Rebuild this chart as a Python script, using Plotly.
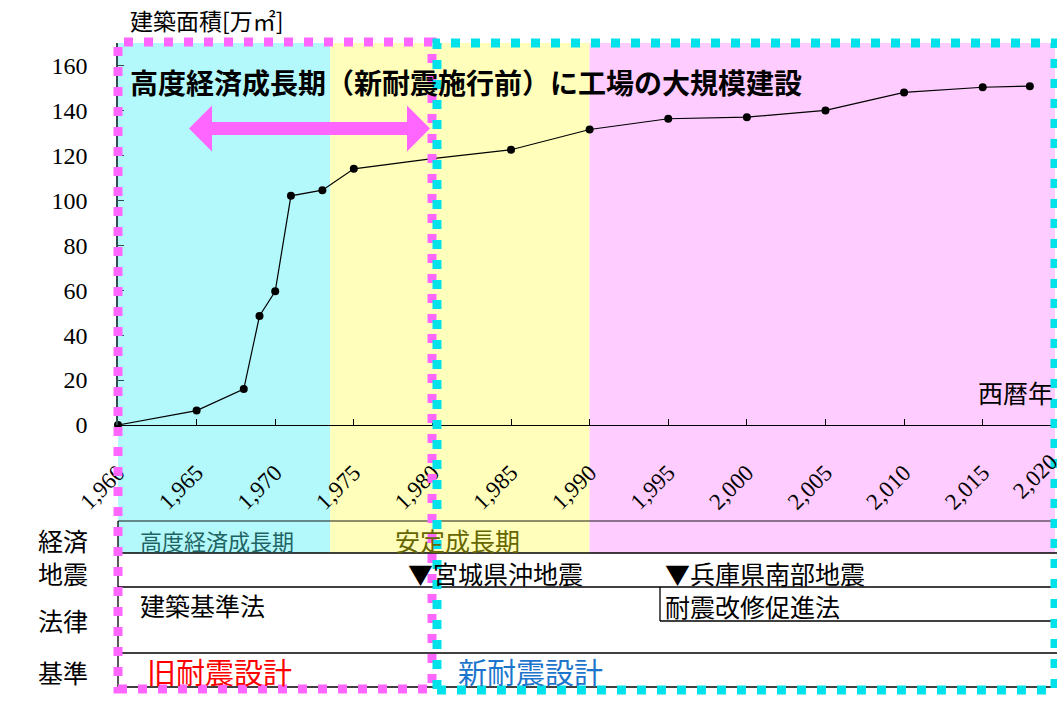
import plotly.graph_objects as go

# ---------------- data ----------------
years = [1960, 1965, 1968, 1969, 1970, 1971, 1973, 1975, 1980, 1985, 1990,
         1995, 2000, 2005, 2010, 2015, 2018]
area = [0, 6.4, 16, 48.5, 59.5, 102, 104.5, 114, 118.5, 122.5, 131.5,
        136.3, 137, 140, 148, 150.3, 150.8]

x_tick_years = list(range(1960, 2021, 5))
x_tick_text = [f"{y:,}" for y in x_tick_years]
y_tick_vals = [0, 20, 40, 60, 80, 100, 120, 140, 160]

era_starts = [1960, 1973.5, 1990]
era_ends = [1973.5, 1990, 2019.6]
era_colors = ["#B3F8FA", "#FFFFBB", "#FFCCFF"]

title_text = "高度経済成長期（新耐震施行前）に工場の大規模建設"
y_title_text = "建築面積[万㎡]"
x_title_text = "西暦年"
row_labels = ["経済", "地震", "法律", "基準"]

# ---------------- layout geometry ----------------
W, H = 1057, 711
L, R, T, B = 118, 2, 43, 286
PW, PH = W - L - R, H - T - B
BASE = H - B


def px(x):
    return (x - L) / PW


def py(y):
    return (BASE - y) / PH


JP = "Noto Sans CJK JP"
SERIF = "Liberation Serif"
MAGENTA = "#FF66FF"
CYAN = "#00E2EA"

fig = go.Figure()
fig.add_trace(go.Scatter(
    x=years, y=area, mode="lines+markers",
    line=dict(color="black", width=1.2),
    marker=dict(color="black", size=8),
    cliponaxis=False, showlegend=False, hoverinfo="skip"))

shapes = []
# era background bands
for x0, x1, c in zip(era_starts, era_ends, era_colors):
    shapes.append(dict(type="rect", xref="x", yref="paper", x0=x0, x1=x1,
                       y0=py(553), y1=1, fillcolor=c, line=dict(width=0),
                       layer="below"))

# table lines
def hline(y, x0=118, x1=1057, color="black", width=1.3):
    shapes.append(dict(type="line", xref="paper", yref="paper",
                       x0=px(x0), x1=px(x1), y0=py(y), y1=py(y),
                       line=dict(color=color, width=width), layer="above"))


def vline(x, y0, y1, color="black", width=1.3):
    shapes.append(dict(type="line", xref="paper", yref="paper",
                       x0=px(x), x1=px(x), y0=py(y0), y1=py(y1),
                       line=dict(color=color, width=width), layer="above"))


hline(521, color="rgba(0,0,0,0.6)")
hline(553)
hline(587)
hline(621, x0=660)
vline(660, 587, 621)
hline(653)
hline(687)
vline(118, 521, 687)

# pink double arrow
ay, shaft, head = 128.5, 6.5, 23
xl_tip, xl_base, xr_base, xr_tip = 189, 212, 407, 430
pts = [(xl_tip, ay), (xl_base, ay - head), (xl_base, ay - shaft),
       (xr_base, ay - shaft), (xr_base, ay - head), (xr_tip, ay),
       (xr_base, ay + head), (xr_base, ay + shaft), (xl_base, ay + shaft),
       (xl_base, ay + head)]
path = "M " + " L ".join(f"{px(a):.5f},{py(b):.5f}" for a, b in pts) + " Z"
shapes.append(dict(type="path", xref="paper", yref="paper", path=path,
                   fillcolor=MAGENTA, line=dict(width=0), layer="above"))

# dotted frames
shapes.append(dict(type="rect", xref="paper", yref="paper",
                   x0=px(118), x1=px(432), y0=py(689), y1=py(42),
                   line=dict(color=MAGENTA, width=9, dash="9px,11px"),
                   layer="above"))
shapes.append(dict(type="rect", xref="paper", yref="paper",
                   x0=px(437), x1=px(1055), y0=py(690), y1=py(43),
                   line=dict(color=CYAN, width=9, dash="9px,11px"),
                   layer="above"))

ann = []


def text(t, x, y, size, color="black", anchor="left", bold=False, family=JP, angle=0):
    ann.append(dict(text=f"<b>{t}</b>" if bold else t, xref="paper", yref="paper",
                    x=px(x), y=py(y), xanchor=anchor, yanchor="middle",
                    showarrow=False, textangle=angle,
                    font=dict(family=family, size=size, color=color)))


text(y_title_text, 128, 20, 23)
text(title_text, 128, 82, 28, bold=True)
text(x_title_text, 1055, 392, 25, anchor="right")
for lab, yy in zip(row_labels, [540, 573, 620, 672]):
    text(lab, 63, yy, 25, anchor="center")
text("高度経済成長期", 138, 540, 22, color="#1F6464")
text("安定成長期", 393, 540, 25, color="#666600")
text("▼宮城県沖地震", 406, 573, 25)
text("▼兵庫県南部地震", 663, 573, 25)
text("建築基準法", 138, 605, 25)
text("耐震改修促進法", 663, 606, 25)
text("旧耐震設計", 145, 671, 29, color="#FF0000")
text("新耐震設計", 456, 671, 29, color="#1C75CC")
# last tick label (axis ends just inside window)
text(x_tick_text[-1], 1035, 476, 23, anchor="center", family=SERIF, angle=-45)

fig.update_layout(
    width=W, height=H,
    margin=dict(l=L, r=R, t=T, b=B, pad=0),
    paper_bgcolor="white", plot_bgcolor="white",
    shapes=shapes, annotations=ann, showlegend=False,
    xaxis=dict(range=[1960, 2019.6], tickmode="array", tickvals=x_tick_years,
               ticktext=x_tick_text, tickangle=-45, ticks="inside", ticklen=6,
               tickcolor="black", showline=True, linecolor="black", linewidth=1.2,
               showgrid=False, zeroline=False, ticklabelstandoff=24,
               tickfont=dict(family=SERIF, size=23, color="black")),
    yaxis=dict(range=[0, 170], tickmode="array", tickvals=y_tick_vals,
               ticks="inside", ticklen=6, tickcolor="#2F4F4F",
               showline=True, linecolor="#2F4F4F", linewidth=1.5,
               showgrid=False, zeroline=False, ticklabelstandoff=24,
               tickfont=dict(family=SERIF, size=24, color="black")),
)

fig.write_html("out.html")
